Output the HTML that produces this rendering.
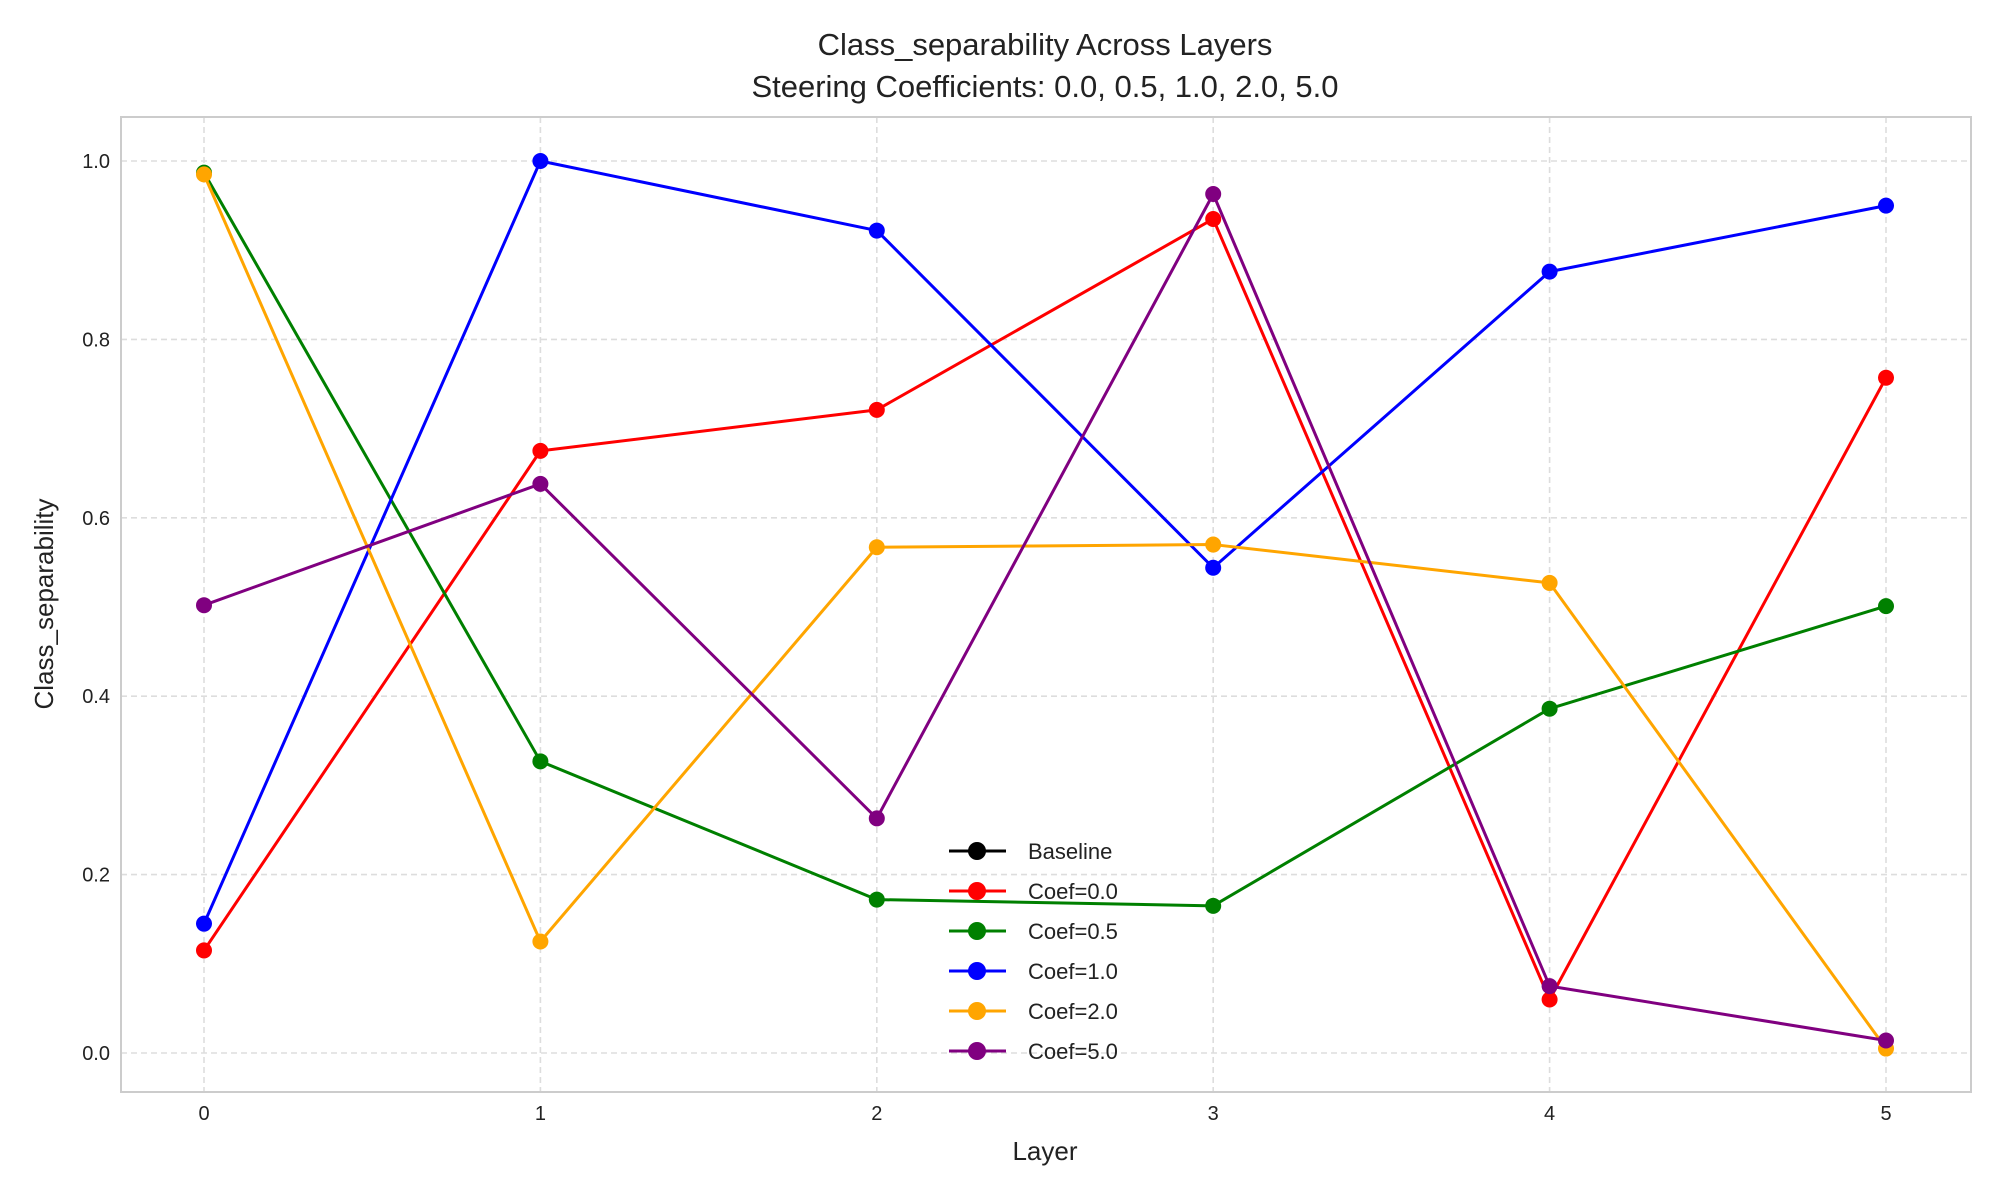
<!DOCTYPE html>
<html><head><meta charset="utf-8"><style>
body{margin:0;background:#fff}
svg{display:block;font-family:"Liberation Sans",sans-serif}
</style></head><body>
<svg id="chart" width="2000" height="1200" viewBox="0 0 2000 1200" xmlns="http://www.w3.org/2000/svg">
<rect width="2000" height="1200" fill="#fff"/>
<text x="1045" y="55" font-size="31" text-anchor="middle" fill="#222">Class_separability Across Layers</text>
<text x="1045" y="97" font-size="31" text-anchor="middle" fill="#222">Steering Coefficients: 0.0, 0.5, 1.0, 2.0, 5.0</text>
<g id="grid"></g>
<rect x="121" y="117" width="1850" height="975" fill="none" stroke="#ccc" stroke-width="2"/>
<g id="series"></g>
<g id="ticks"></g>
<text x="1045" y="1160" font-size="26" text-anchor="middle" fill="#222">Layer</text>
<text transform="translate(53,604) rotate(-90)" font-size="26" text-anchor="middle" fill="#222">Class_separability</text>
<g id="legend"></g>
</svg>
<script>
const layers=[0,1,2,3,4,5];
const yTicks=[0,0.2,0.4,0.6,0.8,1.0];
const seriesNames=["Baseline","Coef=0.0","Coef=0.5","Coef=1.0","Coef=2.0","Coef=5.0"];
const seriesColors=["black","red","green","blue","orange","purple"];
const baseline=[];
const coef00=[0.115,0.675,0.721,0.935,0.06,0.757];
const coef05=[0.987,0.327,0.172,0.165,0.386,0.501];
const coef10=[0.145,1.0,0.922,0.544,0.876,0.95];
const coef20=[0.985,0.125,0.567,0.570,0.527,0.005];
const coef50=[0.502,0.638,0.263,0.963,0.075,0.014];
const allSeries=[baseline,coef00,coef05,coef10,coef20,coef50];
const NS="http://www.w3.org/2000/svg";
const xS=v=>204+v*(1886-204)/5;
const yS=v=>1053-v*(1053-161);
function mk(tag,attrs,parent){const e=document.createElementNS(NS,tag);for(const k in attrs)e.setAttribute(k,attrs[k]);parent.appendChild(e);return e;}
const grid=document.getElementById('grid'),ticks=document.getElementById('ticks'),ser=document.getElementById('series'),leg=document.getElementById('legend');
layers.forEach(l=>{
 const g=mk('line',{x1:xS(l),x2:xS(l),y1:117,y2:1092,stroke:'#ddd','stroke-width':1.6,'stroke-dasharray':'6,4'},grid);
 
 
 const t=mk('text',{x:xS(l),y:1120,'font-size':20,'text-anchor':'middle',fill:'#222'},ticks);
 t.textContent=l;
 
 
});
yTicks.forEach(v=>{
 const g=mk('line',{x1:121,x2:1971,y1:yS(v),y2:yS(v),stroke:'#ddd','stroke-width':1.6,'stroke-dasharray':'6,4'},grid);
 
 
 const t=mk('text',{x:110,y:yS(v)+7,'font-size':20,'text-anchor':'end',fill:'#222'},ticks);
 t.textContent=v.toFixed(1);
 
 
});
allSeries.forEach((s,i)=>{
 if(!s.length)return;
 const g=mk('g',{},ser);
 
 
 const pl=mk('polyline',{points:s.map((v,j)=>xS(layers[j])+','+yS(v)).join(' '),fill:'none',stroke:seriesColors[i],'stroke-width':3,'stroke-linejoin':'round'},g);
 
 
 s.forEach((v,j)=>{
  const c=mk('circle',{cx:xS(layers[j]),cy:yS(v),r:8,fill:seriesColors[i]},g);
  
  
 });
});
seriesNames.forEach((n,i)=>{
 const y=851+i*40;
 const g=mk('g',{},leg);
 
 
 mk('line',{x1:949,x2:1006,y1:y,y2:y,stroke:seriesColors[i],'stroke-width':3},g);
 mk('circle',{cx:977,cy:y,r:9,fill:seriesColors[i]},g);
 const t=mk('text',{x:1028,y:y+8,'font-size':22,fill:'#222'},g);
 t.textContent=n;
});
</script>
</body></html>
